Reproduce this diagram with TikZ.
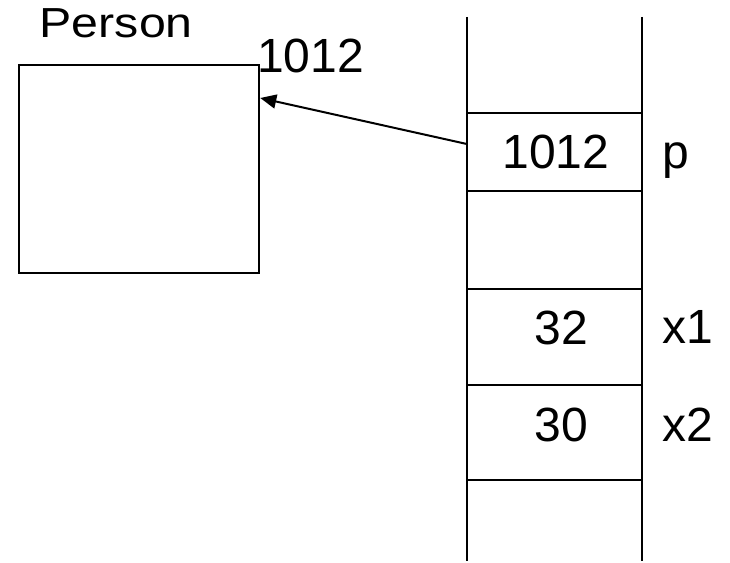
\documentclass[tikz,border=0pt]{standalone}
\usepackage{fontspec}
\setmainfont{Liberation Sans}
\usetikzlibrary{arrows.meta}

\begin{document}
\begin{tikzpicture}[x=1pt,y=1pt,
  lbl/.style={inner sep=0pt, font=\fontsize{48}{52}\selectfont},
  objbox/.style={draw, line width=2.5pt, minimum width=240pt, minimum height=208pt, inner sep=0pt},
  stackline/.style={line width=2.9pt},
  cell/.style={minimum width=175pt, minimum height=78pt, inner sep=0pt},
  ptr/.style={line width=2pt, -{Triangle[length=16pt,width=14pt]}}
]
\useasboundingbox (0,0) rectangle (730,562);

% heap object
\node[objbox] (obj) at (139,393) {};
\node[lbl, anchor=base west, font=\fontsize{42}{46}\selectfont] (cls) at (39.5,524) {\scalebox{1.15}[1]{Person}};
\node[lbl, anchor=base west] (addr) at (257,489) {1012};

% stack frame walls
\coordinate (wl) at (467,545);
\coordinate (wr) at (642,545);
\draw[stackline] (wl) -- (467,1);
\draw[stackline] (wr) -- (642,1);

% slot separators
\foreach \y in {449,371,273,177,82}
  \draw[stackline] (467,\y) -- (642,\y);

% slots
\node[cell] (pcell) at (554.5,410) {};
\node[lbl, anchor=base] (pval) at (556,393) {1012};
\node[lbl, anchor=base west] (pname) at (662,393) {p};

\node[lbl, anchor=base] (x1val) at (561,217) {32};
\node[lbl, anchor=base west] (x1name) at (662,218) {x1};

\node[lbl, anchor=base] (x2val) at (561,120) {30};
\node[lbl, anchor=base west] (x2name) at (662,121) {x2};

% reference from p to the object
\draw[ptr] ([yshift=8pt]pcell.west) -- ([yshift=71pt]obj.east);
\end{tikzpicture}
\end{document}
